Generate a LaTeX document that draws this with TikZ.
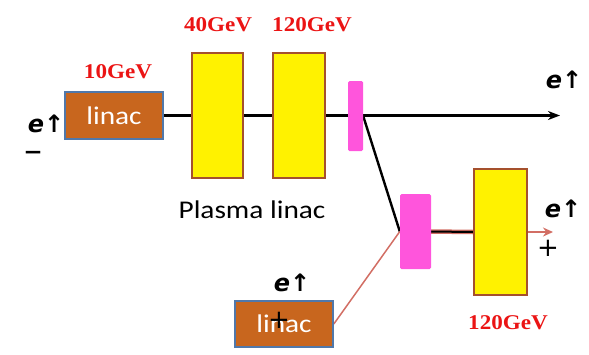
\documentclass[tikz,border=0pt]{standalone}
\usepackage{fontspec}
\setmainfont{Liberation Serif}
\newfontfamily\carlitofont{Carlito}
\newfontfamily\dvfont{DejaVu Sans}
\usetikzlibrary{arrows.meta}
\pgfdeclarelayer{bg}
\pgfsetlayers{bg,main}
\definecolor{lbrown}{RGB}{200,102,30}
\definecolor{lblue}{RGB}{80,120,170}
\definecolor{ybord}{RGB}{165,80,45}
\definecolor{pinkc}{RGB}{255,85,220}
\definecolor{salmon}{RGB}{210,110,100}
\definecolor{gevred}{RGB}{235,20,20}
\tikzset{
  linacbox/.style={draw=lblue, line width=1.6pt, fill=lbrown, minimum width=98pt, minimum height=47pt, inner sep=0pt, text=white, font=\carlitofont\fontsize{25.5}{25.5}\selectfont},
  yellowbox/.style={draw=ybord, line width=2pt, fill=yellow, minimum width=51pt, minimum height=125pt, inner sep=0pt},
  pinkbar/.style={fill=pinkc, rounded corners=1.5pt, inner sep=0pt},
  gev/.style={text=gevred, font=\bfseries\fontsize{21}{21}\selectfont, inner sep=0pt},
  elab/.style={font=\dvfont\bfseries\itshape\fontsize{24}{24}\selectfont, inner sep=0pt},
  sign/.style={font=\dvfont\fontsize{26}{26}\selectfont, inner sep=0pt},
  beam/.style={line width=2.4pt, black},
  pbeam/.style={line width=1.5pt, salmon}
}
\begin{document}
\begin{tikzpicture}[x=1pt,y=-1pt]
\useasboundingbox (0,0) rectangle (589,354);
\node[linacbox] (linA) at (114,115.5) {\scalebox{1.15}[1]{linac}};
\node[yellowbox] (y1) at (217.5,115.5) {};
\node[yellowbox, minimum width=52pt] (y2) at (299,115.5) {};
\node[pinkbar, minimum width=15pt, minimum height=70pt] (p1) at (355.5,116) {};
\node[pinkbar, minimum width=31pt, minimum height=75pt] (p2) at (415.5,231.5) {};
\node[yellowbox, minimum width=53pt, minimum height=126pt] (y3) at (500.5,232) {};
\node[linacbox, minimum height=46pt] (linB) at (284,324) {\scalebox{1.15}[1]{linac}};
\coordinate (endA) at (560,115.5);
\coordinate (endB) at (553,232);
\begin{pgfonlayer}{bg}
\draw[beam, -{Stealth[length=12pt,width=9pt]}] (linA.east) -- (endA);
\draw[beam] (p1.east) -- (p2.west);
\draw[pbeam] (linB.east) -- (p2.west);
\draw[line width=4.5pt, salmon] (p2.east) -- (y3.west);
\draw[line width=2pt, black] (p2.east) -- (y3.west);
\draw[line width=2.5pt, salmon, -{Stealth[length=10pt,width=9pt]}] (y3.east) -- (endB);
\end{pgfonlayer}
\node[gev] (g10) at (118,72) {\scalebox{1.1}[1]{10GeV}};
\node[gev] (g40) at (218,25) {\scalebox{1.1}[1]{40GeV}};
\node[gev] (g120) at (312,25) {\scalebox{1.1}[1]{120GeV}};
\node[gev] (g120b) at (508,323) {\scalebox{1.1}[1]{120GeV}};
\node[font=\carlitofont\fontsize{25.5}{25.5}\selectfont, inner sep=0pt] (pl) at (252,210) {\scalebox{1.15}[1]{Plasma linac}};
\node[elab] (e1) at (46,124) {e↑};
\node[sign, font=\dvfont\fontsize{36}{36}\selectfont] (m1) at (33,157) {–};
\node[elab] (e2) at (564,80) {e↑};
\node[elab] (e3) at (563,209) {e↑};
\node[sign] (pl3) at (548,248) {+};
\node[elab] (e4) at (292,283) {e↑};
\node[sign] (pl4) at (279,320) {+};
\end{tikzpicture}
\end{document}
